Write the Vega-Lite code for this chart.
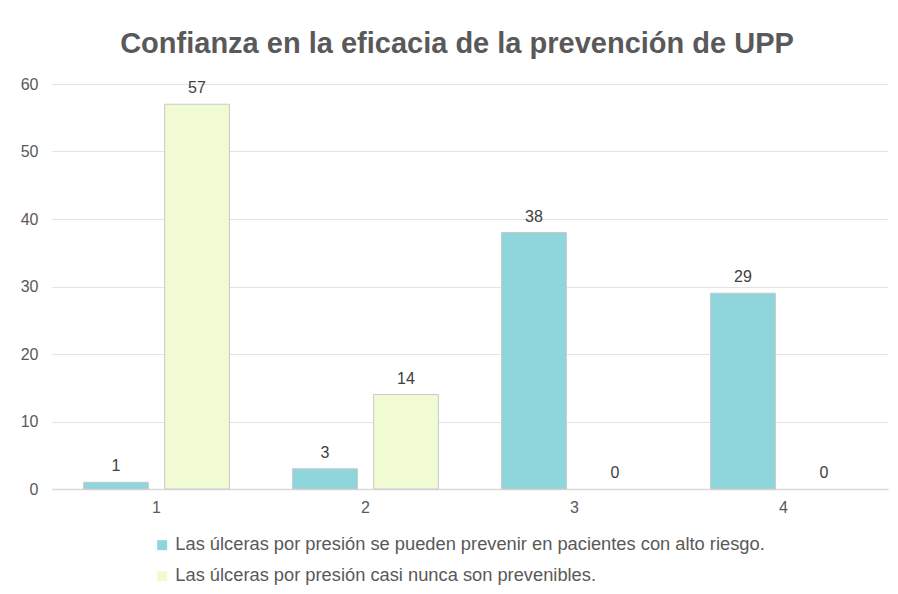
{
  "$schema": "https://vega.github.io/schema/vega-lite/v6.json",
  "autosize": "none",
  "width": 836,
  "height": 405,
  "padding": {"left": 52, "top": 84, "right": 10, "bottom": 105},
  "background": "white",
  "title": {
    "text": "Confianza en la eficacia de la prevención de UPP",
    "font": "Liberation Sans",
    "fontSize": 29,
    "fontWeight": "bold",
    "color": "#595959",
    "anchor": "middle",
    "dx": -13,
    "offset": 17
  },
  "data": {
    "values": [
      {"cat": "1", "serie": "Las úlceras por presión se pueden prevenir en pacientes con alto riesgo.", "valor": 1},
      {"cat": "1", "serie": "Las úlceras por presión casi nunca son prevenibles.", "valor": 57},
      {"cat": "2", "serie": "Las úlceras por presión se pueden prevenir en pacientes con alto riesgo.", "valor": 3},
      {"cat": "2", "serie": "Las úlceras por presión casi nunca son prevenibles.", "valor": 14},
      {"cat": "3", "serie": "Las úlceras por presión se pueden prevenir en pacientes con alto riesgo.", "valor": 38},
      {"cat": "3", "serie": "Las úlceras por presión casi nunca son prevenibles.", "valor": 0},
      {"cat": "4", "serie": "Las úlceras por presión se pueden prevenir en pacientes con alto riesgo.", "valor": 29},
      {"cat": "4", "serie": "Las úlceras por presión casi nunca son prevenibles.", "valor": 0}
    ]
  },
  "encoding": {
    "x": {
      "field": "cat",
      "type": "nominal",
      "scale": {"paddingInner": 0, "paddingOuter": 0},
      "axis": {
        "title": null,
        "labelAngle": 0,
        "labelFont": "Liberation Sans",
        "labelFontSize": 16,
        "labelColor": "#595959",
        "labelPadding": 10,
        "ticks": false,
        "domainColor": "#d9d9d9",
        "domainWidth": 1.5
      }
    },
    "xOffset": {
      "field": "serie",
      "type": "nominal",
      "sort": ["Las úlceras por presión se pueden prevenir en pacientes con alto riesgo.", "Las úlceras por presión casi nunca son prevenibles."],
      "scale": {"paddingInner": 0.2, "paddingOuter": 0.39}
    },
    "y": {
      "field": "valor",
      "type": "quantitative",
      "scale": {"domain": [0, 60]},
      "axis": {
        "title": null,
        "values": [0, 10, 20, 30, 40, 50, 60],
        "labelFont": "Liberation Sans",
        "labelFontSize": 16,
        "labelColor": "#595959",
        "labelPadding": 14,
        "ticks": false,
        "domain": false,
        "gridColor": "#e3e3e3",
        "gridWidth": 1.2
      }
    }
  },
  "layer": [
    {
      "mark": {"type": "bar", "stroke": "#c9c9c9", "strokeWidth": 1},
      "encoding": {
        "strokeOpacity": {
          "condition": {"test": "datum.valor === 0", "value": 0},
          "value": 1
        },
        "color": {
          "field": "serie",
          "type": "nominal",
          "sort": ["Las úlceras por presión se pueden prevenir en pacientes con alto riesgo.", "Las úlceras por presión casi nunca son prevenibles."],
          "scale": {
            "domain": ["Las úlceras por presión se pueden prevenir en pacientes con alto riesgo.", "Las úlceras por presión casi nunca son prevenibles."],
            "range": ["#8fd5dc", "#f1fbd3"]
          },
          "legend": {
            "title": null,
            "orient": "none",
            "legendX": 101,
            "legendY": 452,
            "direction": "vertical",
            "symbolType": "square",
            "symbolSize": 100,
            "symbolStrokeWidth": 0,
            "labelFont": "Liberation Sans",
            "labelFontSize": 18.3,
            "labelColor": "#595959",
            "labelLimit": 800,
            "rowPadding": 12,
            "labelOffset": 4
          }
        }
      }
    },
    {
      "mark": {
        "type": "text",
        "baseline": "bottom",
        "dy": -8,
        "font": "Liberation Sans",
        "fontSize": 16,
        "color": "#404040"
      },
      "encoding": {
        "text": {"field": "valor", "type": "quantitative"}
      }
    }
  ],
  "config": {
    "view": {"stroke": null}
  }
}
